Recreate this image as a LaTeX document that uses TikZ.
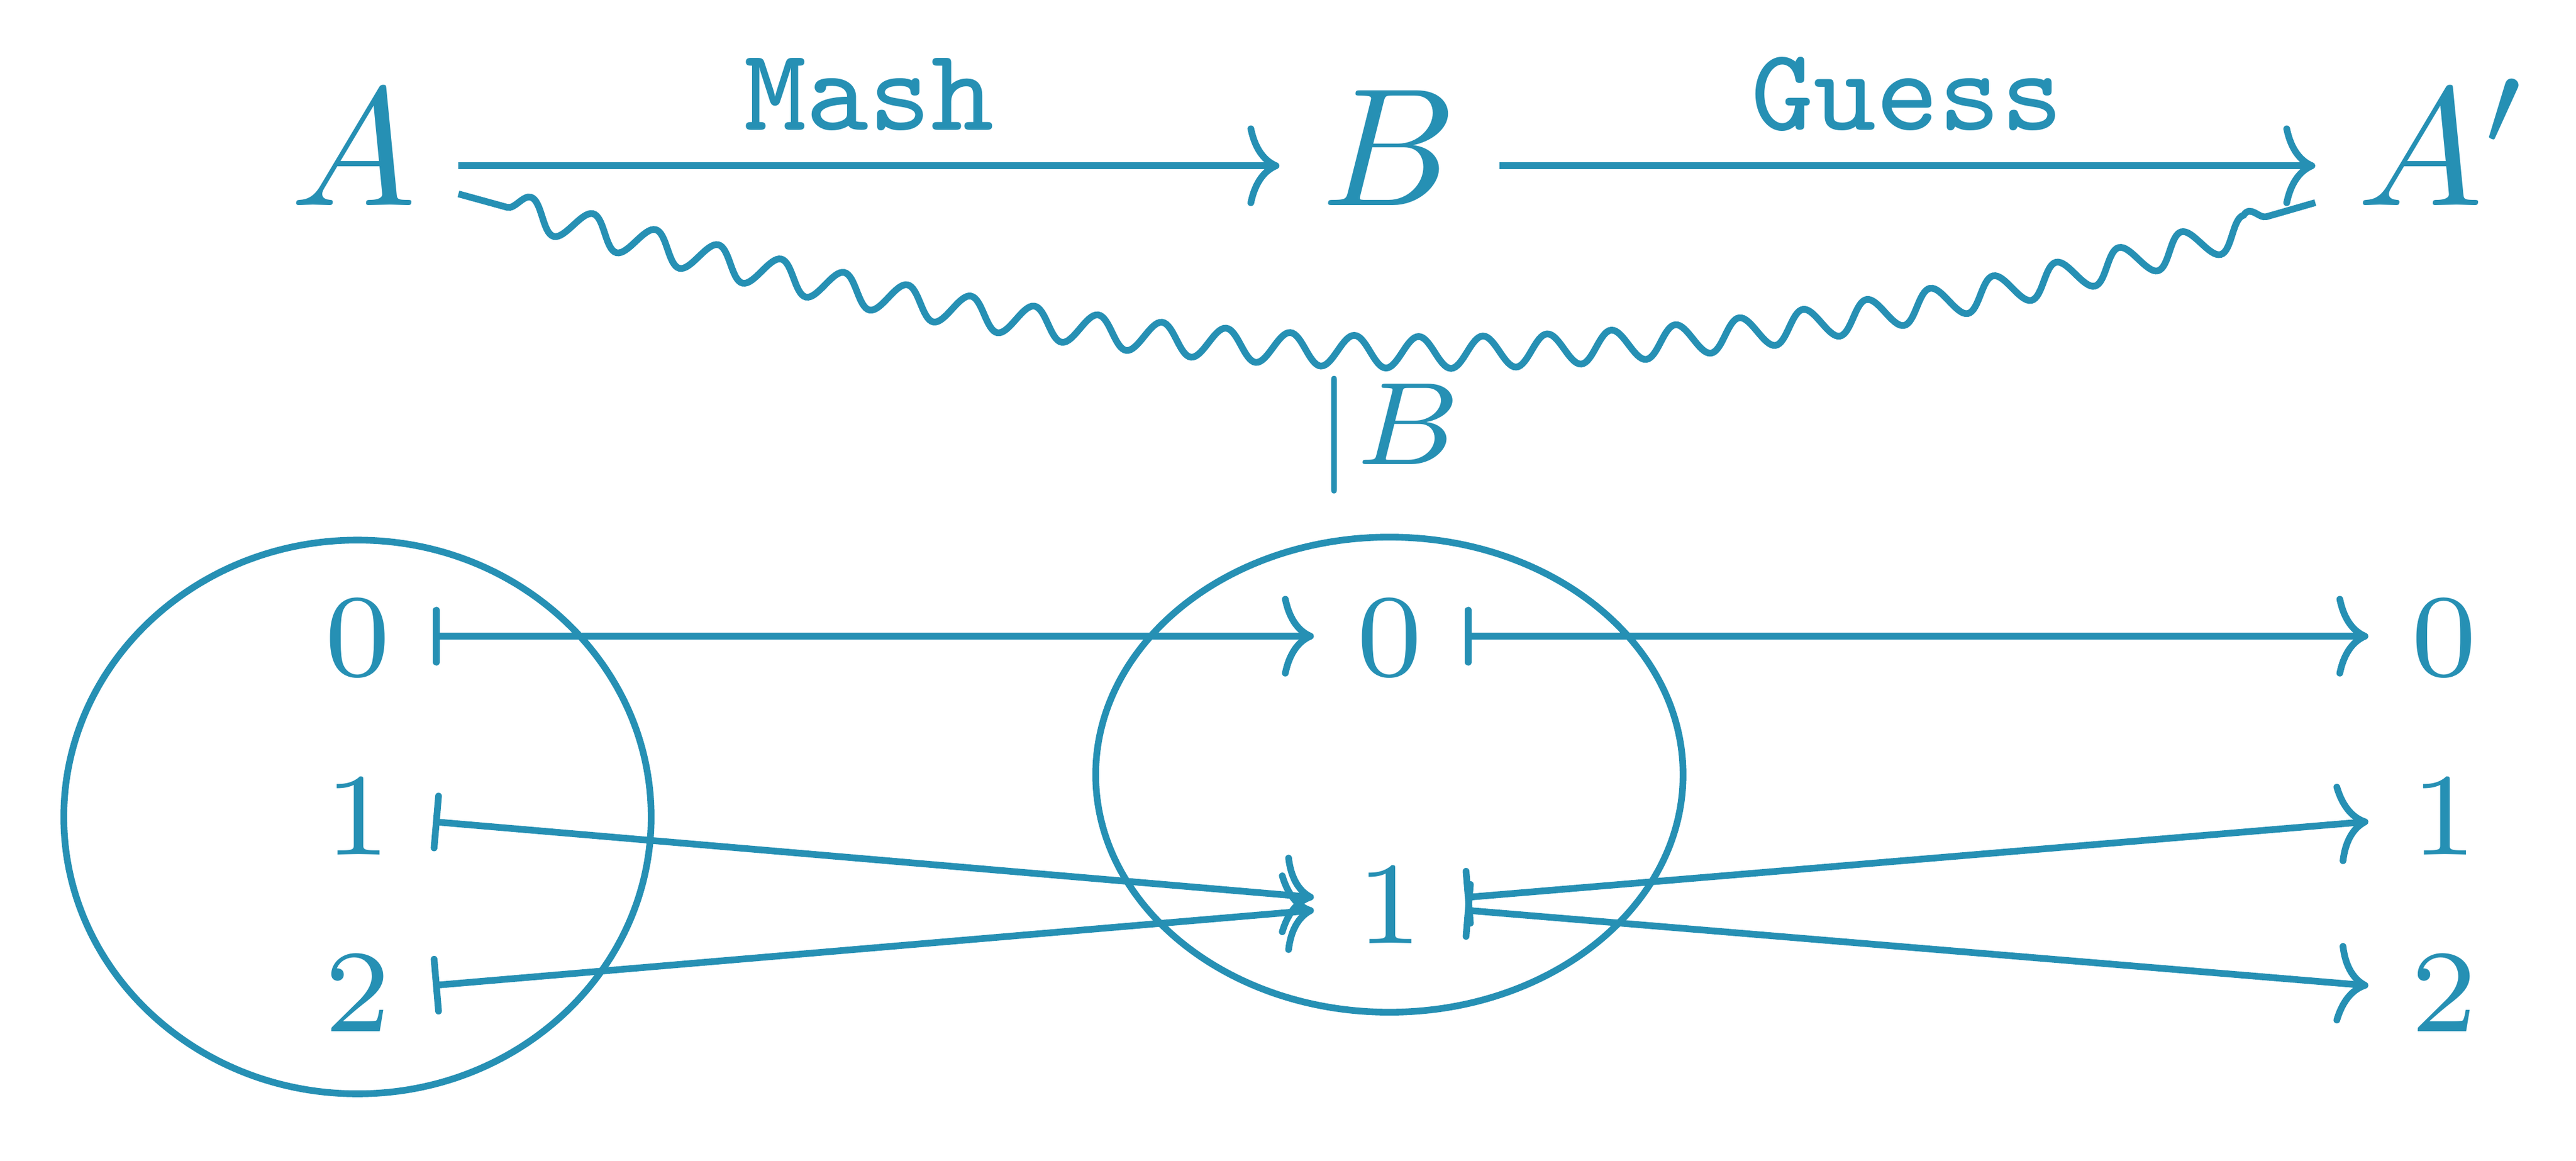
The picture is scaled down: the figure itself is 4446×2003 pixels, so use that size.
\documentclass[tikz,border=0pt]{standalone}
\usetikzlibrary{arrows.meta,decorations.pathmorphing}
\definecolor{cd}{HTML}{2690B4}
\begin{document}
\begin{tikzpicture}[x=0.034483pt, y=-0.034483pt, color=cd, line width=0.4pt,
  obj/.style={inner xsep=2.3pt, inner ysep=3pt, text height=7pt, text depth=2.3pt},
  dig/.style={obj, font=\scriptsize},
  cdarrow/.style={-{Computer Modern Rightarrow[length=1.9pt,width=4.8pt,round]}},
  mapsto/.style={{Bar[width=3.1pt,round]}-{Computer Modern Rightarrow[length=1.9pt,width=4.8pt,round]}},
  lab/.style={font=\scriptsize, anchor=base, yshift=2.14pt, inner sep=0pt},
  squig/.style={decorate, decoration={snake, amplitude=0.95pt, segment length=3.85pt, pre length=3pt, post length=2pt}},
  blob/.style={draw=cd}
]
\useasboundingbox (0,0) rectangle (4446,2003);
% top row
\node[obj] (A)  at (610,286)  {$A$};
\node[obj] (B)  at (2398,286) {$B$};
\node[obj] (A2) at (4218,286) {$A'$};
% bottom digits
\node[dig] (l0) at (617,1098) {$0$};
\node[dig] (l1) at (617,1407) {$1$};
\node[dig] (l2) at (617,1712) {$2$};
\node[dig] (m0) at (2398,1098) {$0$};
\node[dig] (m1) at (2398,1560) {$1$};
\node[dig] (r0) at (4218,1098) {$0$};
\node[dig] (r1) at (4218,1407) {$1$};
\node[dig] (r2) at (4218,1712) {$2$};
% top arrows
\draw[cdarrow] (A) -- node[lab] {\texttt{Mash}} (B);
\draw[cdarrow] (B) -- node[lab] {\texttt{Guess}} (A2);
\draw[squig] (A.-15.6) to[out=-15.6,in=196.3]
  node[font=\scriptsize, anchor=base, yshift=-6.93pt, inner sep=0pt] (lb) {$|B$} (A2.196.3);
% ellipses
\draw[blob] (617,1410) ellipse [x radius=17.48pt, y radius=16.48pt];
\draw[blob] (2398,1337) ellipse [x radius=17.48pt, y radius=14.14pt];
% maps
\draw[mapsto] (l0) -- (m0);
\draw[mapsto] (m0) -- (r0);
\draw[mapsto] (l1) -- (m1);
\draw[mapsto] (l2) -- (m1);
\draw[mapsto] (m1) -- (r1);
\draw[mapsto] (m1) -- (r2);
\end{tikzpicture}
\end{document}
